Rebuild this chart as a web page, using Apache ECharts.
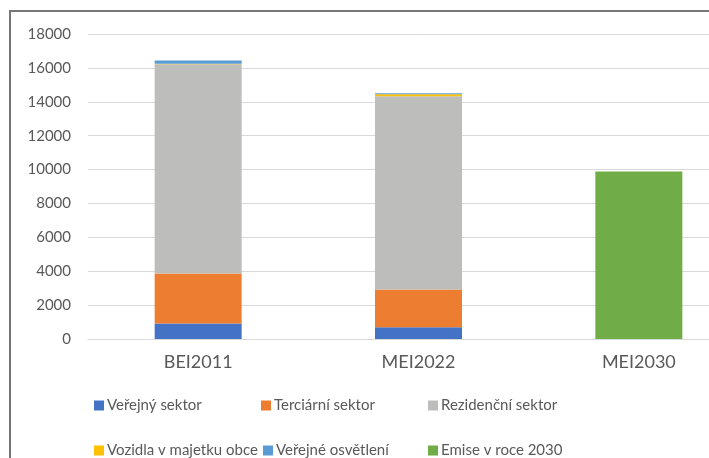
<!DOCTYPE html>
<html>
<head>
<meta charset="utf-8">
<script src="https://cdn.jsdelivr.net/npm/echarts@6/dist/echarts.min.js"></script>
<style>html,body{margin:0;padding:0;background:#fff;overflow:hidden;width:709px;height:458px}#c{width:760px;height:458px}</style>
</head>
<body>
<div id="c"></div>
<script>
var categories = ['BEI2011', 'MEI2022', 'MEI2030'];
var yTicks = [0, 2000, 4000, 6000, 8000, 10000, 12000, 14000, 16000, 18000];
var seriesNames = ['Veřejný sektor', 'Terciární sektor', 'Rezidenční sektor', 'Vozidla v majetku obce', 'Veřejné osvětlení', 'Emise v roce 2030'];
var verejny = [920, 700, null];
var terciarni = [2950, 2220, null];
var rezidencni = [12350, 11410, null];
var vozidla = [30, 120, null];
var osvetleni = [190, 60, null];
var emise = [null, null, 9880];

var values = [verejny, terciarni, rezidencni, vozidla, osvetleni, emise];
var colors = ['#4472C4', '#ED7D31', '#BDBDBB', '#FFC000', '#5B9BD5', '#70AD47'];
var FONT = 'Lato';

var legendPos = [[94, 398], [261, 398], [428, 398], [94, 443], [263, 443], [428, 443]];
var legends = seriesNames.map(function (n, i) {
  return {
    data: [n], left: legendPos[i][0], top: legendPos[i][1],
    itemWidth: 10, itemHeight: 10, itemGap: 0, padding: 0,
    icon: 'rect', selectedMode: false,
    textStyle: { fontFamily: FONT, fontSize: 15, color: '#595959', padding: [0, 0, 0, -2] }
  };
});

var chart = echarts.init(document.getElementById('c'), null, { renderer: 'canvas' });
chart.setOption({
  animation: false,
  color: colors,
  graphic: [{
    type: 'rect', shape: { x: 10, y: 11, width: 760, height: 470 },
    style: { fill: 'none', stroke: '#767676', lineWidth: 2 }, silent: true, z: 100
  }],
  legend: legends,
  grid: { left: 88, top: 34, width: 661, height: 305, containLabel: false },
  xAxis: {
    type: 'category', data: categories,
    axisLine: { lineStyle: { color: '#d9d9d9', width: 1 } },
    axisTick: { show: false },
    axisLabel: { fontFamily: FONT, fontSize: 18, color: '#595959', margin: 14 }
  },
  yAxis: {
    type: 'value', min: yTicks[0], max: yTicks[yTicks.length - 1], interval: yTicks[1] - yTicks[0],
    axisLine: { show: false }, axisTick: { show: false },
    splitLine: { lineStyle: { color: '#d9d9d9', width: 1 } },
    axisLabel: { fontFamily: FONT, fontSize: 15, color: '#595959', margin: 17,
      formatter: function (v) { return String(v); } }
  },
  series: seriesNames.map(function (n, i) {
    return {
      name: n, type: 'bar', stack: 'total', barWidth: 87,
      data: values[i].map(function (v) { return v === null ? '-' : v; }),
      itemStyle: { color: colors[i] }
    };
  })
});
</script>
</body>
</html>
